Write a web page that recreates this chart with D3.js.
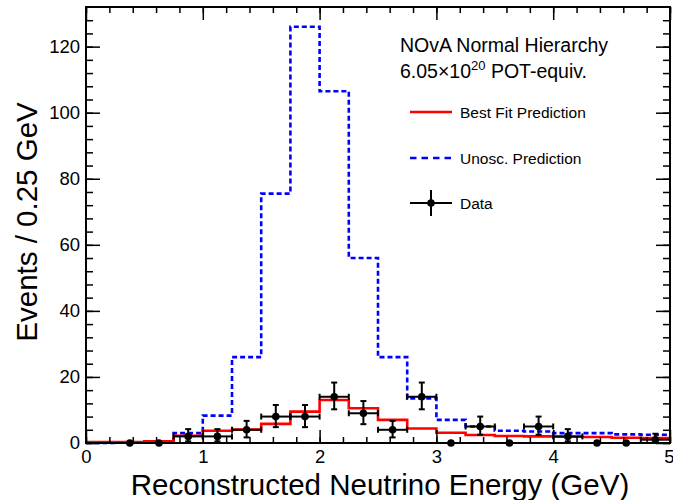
<!DOCTYPE html>
<html>
<head>
<meta charset="utf-8">
<script src="https://cdn.jsdelivr.net/npm/d3@7"></script>
<style>
  body { margin: 0; background: #fff; }
  svg { display: block; font-family: "Liberation Sans", Arial, sans-serif; }
</style>
</head>
<body>
<div id="chart"></div>
<script>
// bins: 0.25 GeV wide, 0 to 5 GeV
const binEdges = d3.range(0, 5.0001, 0.25);
const unoscPred = [0, 0.2, 0.5, 3, 8.3, 26, 75.5, 126, 106.5, 56, 26, 13.5, 7, 5, 3.7, 3.5, 3, 3, 2.6, 2.5];
const bestFitPred = [0.3, 0.3, 0.5, 2.2, 3.7, 4.1, 5.8, 9.5, 13, 10.5, 7, 4.4, 3.1, 2.4, 2.1, 2, 1.9, 1.8, 1.6, 1.5];
// data counts per bin (null = not drawn)
const dataCounts = [null, 0, 0, 2, 2, 4, 8, 8, 14, 9, 4, 14, 0, 5, 0, 5, 2, 0, 0, 1];
const dataErrUp = [0, 0, 0, 2.2, 2.2, 2.7, 3.5, 3.5, 4.3, 3.7, 2.7, 4.3, 0, 3.0, 0, 3.0, 2.2, 0, 0, 1.8];
const dataErrDn = [0, 0, 0, 1.5, 1.5, 2.3, 3.2, 3.2, 3.8, 3.3, 2.3, 3.8, 0, 2.5, 0, 2.5, 1.5, 0, 0, 0.9];
const xTicks = [0, 1, 2, 3, 4, 5];
const yTicks = [0, 20, 40, 60, 80, 100, 120];

const width = 673, height = 500;
const plotL = 86, plotR = 670, plotT = 7, plotB = 443;

const svg = d3.select('#chart').append('svg')
    .attr('width', width)
    .attr('height', height);

const x = d3.scaleLinear().domain([0, 5]).range([plotL, plotR]);
const y = d3.scaleLinear().domain([0, 132]).range([plotB, plotT]);

// step histograms
function stepLine(values) {
    const pts = values.map((v, i) => [binEdges[i], v]);
    pts.push([binEdges[values.length], values[values.length - 1]]);
    return d3.line()
        .x(d => x(d[0]))
        .y(d => y(d[1]))
        .curve(d3.curveStepAfter)(pts);
}

svg.append('path')
    .attr('d', stepLine(unoscPred))
    .attr('fill', 'none')
    .attr('stroke', '#0000ff')
    .attr('stroke-width', 2.6)
    .attr('stroke-dasharray', '5,3');

svg.append('path')
    .attr('d', stepLine(bestFitPred))
    .attr('fill', 'none')
    .attr('stroke', '#ff0000')
    .attr('stroke-width', 2.6);

// data points with error bars
const pts = dataCounts.map((n, i) => ({
    n: n,
    lo: binEdges[i], hi: binEdges[i + 1],
    c: (binEdges[i] + binEdges[i + 1]) / 2,
    up: dataErrUp[i], dn: dataErrDn[i]
})).filter(d => d.n !== null);

const gData = svg.append('g').attr('stroke', '#000').attr('stroke-width', 2);
const withErr = pts.filter(d => d.n > 0);
const cap = 3;

gData.selectAll('line.h').data(withErr).enter().append('line')
    .attr('x1', d => x(d.lo)).attr('x2', d => x(d.hi))
    .attr('y1', d => y(d.n)).attr('y2', d => y(d.n));
gData.selectAll('line.v').data(withErr).enter().append('line')
    .attr('x1', d => x(d.c)).attr('x2', d => x(d.c))
    .attr('y1', d => y(d.n + d.up)).attr('y2', d => y(d.n - d.dn));
// end caps
gData.selectAll('line.capL').data(withErr).enter().append('line')
    .attr('x1', d => x(d.lo)).attr('x2', d => x(d.lo))
    .attr('y1', d => y(d.n) - cap).attr('y2', d => y(d.n) + cap);
gData.selectAll('line.capR').data(withErr).enter().append('line')
    .attr('x1', d => x(d.hi)).attr('x2', d => x(d.hi))
    .attr('y1', d => y(d.n) - cap).attr('y2', d => y(d.n) + cap);
gData.selectAll('line.capT').data(withErr).enter().append('line')
    .attr('x1', d => x(d.c) - cap).attr('x2', d => x(d.c) + cap)
    .attr('y1', d => y(d.n + d.up)).attr('y2', d => y(d.n + d.up));
gData.selectAll('line.capB').data(withErr.filter(d => d.n - d.dn > 0.3)).enter().append('line')
    .attr('x1', d => x(d.c) - cap).attr('x2', d => x(d.c) + cap)
    .attr('y1', d => y(d.n - d.dn)).attr('y2', d => y(d.n - d.dn));

svg.selectAll('circle.pt').data(pts).enter().append('circle')
    .attr('cx', d => x(d.c)).attr('cy', d => y(d.n))
    .attr('r', 3.8).attr('fill', '#000');

// axes: ticks point inward, on all four sides
const xMinor = d3.range(0, 5.0001, 0.2);
const yMinor = d3.range(0, 132, 4);

function styleAxis(g) {
    g.select('.domain').remove();
    g.selectAll('line').attr('stroke', '#000').attr('stroke-width', 1.5);
}

svg.append('g').attr('transform', `translate(0,${plotB})`)
    .call(d3.axisBottom(x).tickValues(xMinor).tickSize(-6).tickFormat(''))
    .call(styleAxis);
const xLabels = svg.append('g').attr('transform', `translate(0,${plotB})`)
    .call(d3.axisBottom(x).tickValues(xTicks).tickSize(-13).tickPadding(7).tickFormat(d3.format('d')))
    .call(styleAxis);
xLabels.selectAll('text')
    .attr('font-size', 18.5).attr('fill', '#000').attr('font-family', 'Liberation Sans, Arial, sans-serif');
// last label sits at the right edge, keep it inside the page
xLabels.selectAll('text').filter(d => d === 5).attr('text-anchor', 'end').attr('x', 4);

svg.append('g').attr('transform', `translate(0,${plotT})`)
    .call(d3.axisTop(x).tickValues(xMinor).tickSize(-6).tickFormat(''))
    .call(styleAxis);
svg.append('g').attr('transform', `translate(0,${plotT})`)
    .call(d3.axisTop(x).tickValues(xTicks).tickSize(-13).tickFormat(''))
    .call(styleAxis);

svg.append('g').attr('transform', `translate(${plotL},0)`)
    .call(d3.axisLeft(y).tickValues(yMinor).tickSize(-7).tickFormat(''))
    .call(styleAxis);
svg.append('g').attr('transform', `translate(${plotL},0)`)
    .call(d3.axisLeft(y).tickValues(yTicks).tickSize(-14).tickPadding(6).tickFormat(d3.format('d')))
    .call(styleAxis)
    .selectAll('text').attr('font-size', 18.5).attr('fill', '#000').attr('font-family', 'Liberation Sans, Arial, sans-serif');
svg.append('g').attr('transform', `translate(${plotR},0)`)
    .call(d3.axisRight(y).tickValues(yMinor).tickSize(-7).tickFormat(''))
    .call(styleAxis);
svg.append('g').attr('transform', `translate(${plotR},0)`)
    .call(d3.axisRight(y).tickValues(yTicks).tickSize(-14).tickFormat(''))
    .call(styleAxis);

// frame
svg.append('rect')
    .attr('x', plotL).attr('y', plotT)
    .attr('width', plotR - plotL).attr('height', plotB - plotT)
    .attr('fill', 'none').attr('stroke', '#000').attr('stroke-width', 2);

// axis titles
svg.append('text')
    .attr('x', 380).attr('y', 495)
    .attr('text-anchor', 'middle')
    .attr('font-size', 29.5)
    .text('Reconstructed Neutrino Energy (GeV)');

svg.append('text')
    .attr('transform', 'translate(37,222) rotate(-90)')
    .attr('text-anchor', 'middle')
    .attr('font-size', 29.5)
    .text('Events / 0.25 GeV');

// legend
svg.append('text')
    .attr('x', 400).attr('y', 52)
    .attr('font-size', 19.5)
    .text('NOvA Normal Hierarchy');

const pot = svg.append('text').attr('x', 400).attr('y', 78).attr('font-size', 19.5);
pot.append('tspan').text('6.05\u00d710');
pot.append('tspan').attr('font-size', 13).attr('dy', -8).text('20');
pot.append('tspan').attr('dy', 8).text(' POT-equiv.');

const legendItems = [
    { label: 'Best Fit Prediction', y: 112, kind: 'red' },
    { label: 'Unosc. Prediction', y: 158, kind: 'blue' },
    { label: 'Data', y: 203, kind: 'data' }
];

legendItems.forEach(item => {
    if (item.kind === 'red') {
        svg.append('line').attr('x1', 410).attr('x2', 452).attr('y1', item.y).attr('y2', item.y)
            .attr('stroke', '#ff0000').attr('stroke-width', 2.4);
    } else if (item.kind === 'blue') {
        svg.append('line').attr('x1', 410).attr('x2', 452).attr('y1', item.y).attr('y2', item.y)
            .attr('stroke', '#0000ff').attr('stroke-width', 2.4).attr('stroke-dasharray', '6.5,5');
    } else {
        svg.append('line').attr('x1', 410).attr('x2', 452).attr('y1', item.y).attr('y2', item.y)
            .attr('stroke', '#000').attr('stroke-width', 2);
        svg.append('line').attr('x1', 431).attr('x2', 431).attr('y1', item.y - 13).attr('y2', item.y + 13)
            .attr('stroke', '#000').attr('stroke-width', 2);
        svg.append('circle').attr('cx', 431).attr('cy', item.y).attr('r', 3.8).attr('fill', '#000');
    }
    svg.append('text')
        .attr('x', 460).attr('y', item.y + 5.5)
        .attr('font-size', 15.5)
        .text(item.label);
});
</script>
</body>
</html>
